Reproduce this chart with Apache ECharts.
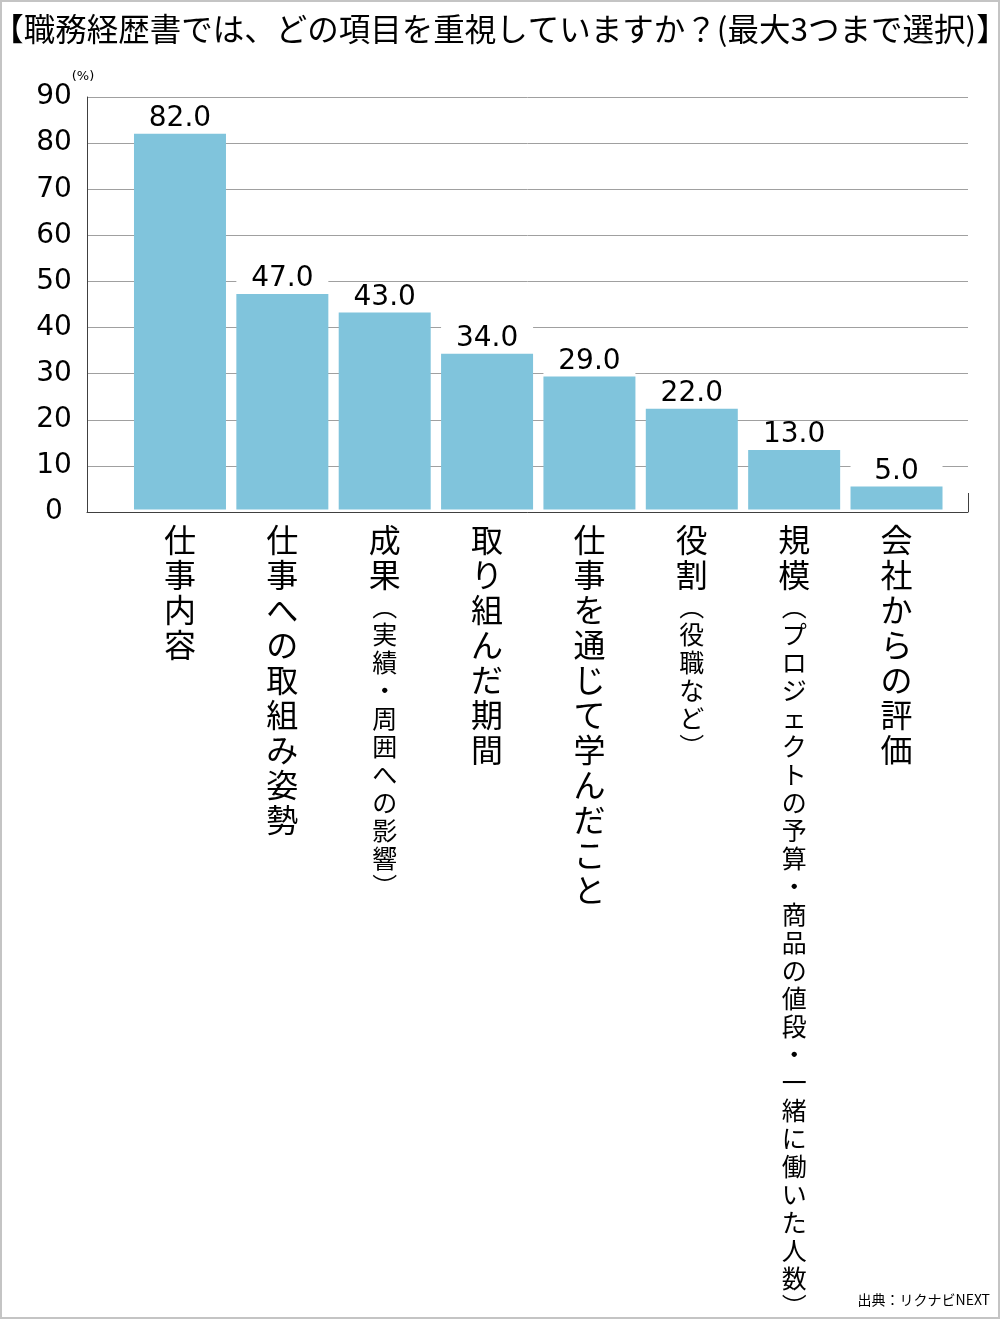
<!DOCTYPE html>
<html>
<head>
<meta charset="utf-8">
<script src="https://cdn.jsdelivr.net/npm/echarts@6/dist/echarts.min.js"></script>
<style>
html,body{margin:0;padding:0;background:#fff;}
#chart{width:1000px;height:1319px;}
</style>
</head>
<body>
<div id="chart"></div>
<script>
const titleText = '【職務経歴書では、どの項目を重視していますか？(最大3つまで選択)】';
const sourceText = '出典：リクナビNEXT';
const unitText = '(%)';
const categories = [
  '仕事内容',
  '仕事への取組み姿勢',
  '成果（実績・周囲への影響）',
  '取り組んだ期間',
  '仕事を通じて学んだこと',
  '役割（役職など）',
  '規模（プロジェクトの予算・商品の値段・一緒に働いた人数）',
  '会社からの評価'
];
const values = [82.0, 47.0, 43.0, 34.0, 29.0, 22.0, 13.0, 5.0];
const yMin = 0, yMax = 90, yStep = 10;

const JP = '"Noto Sans CJK JP", "Noto Sans", sans-serif';
const NUM = '"DejaVu Sans", Verdana, sans-serif';

function verticalLabel(text) {
  const idx = text.indexOf('（');
  const main = idx >= 0 ? text.slice(0, idx) : text;
  const sub = idx >= 0 ? text.slice(idx) : '';
  const lines = [];
  for (const ch of main) lines.push('{m|' + ch + '}');
  for (const ch of sub) {
    let c = ch;
    if (c === '（') c = '\uFE35';
    if (c === '）') c = '\uFE36';
    lines.push('{s|' + c + '}');
  }
  return lines.join('\n');
}

const chart = echarts.init(document.getElementById('chart'), null, {renderer: 'canvas'});
chart.setOption({
  animation: false,
  backgroundColor: '#fff',
  title: [
    {
      text: titleText,
      left: 'center',
      top: 8,
      textStyle: {fontFamily: JP, fontSize: 31.5, fontWeight: 'normal', color: '#000'}
    },
    {
      text: sourceText,
      right: 5,
      bottom: 7,
      textStyle: {fontFamily: JP, fontSize: 14, fontWeight: 'normal', color: '#000'}
    }
  ],
  graphic: [
    {
      type: 'rect',
      silent: true,
      z: 100,
      shape: {x: 1, y: 1, width: 998, height: 1317},
      style: {fill: 'none', stroke: '#c4c4c4', lineWidth: 2}
    }
  ],
  grid: [
    {left: 87, right: 32, top: 97, bottom: 807},
    {left: 128.8, right: 52.3, top: 97, bottom: 807}
  ],
  xAxis: [
    {
      gridIndex: 0,
      type: 'category',
      data: [''],
      boundaryGap: true,
      axisLine: {show: true, lineStyle: {color: '#404040', width: 1}},
      axisTick: {show: true, inside: true, length: 19, lineStyle: {color: '#404040'}},
      axisLabel: {show: false},
      splitLine: {show: false}
    },
    {
      gridIndex: 1,
      type: 'category',
      data: categories,
      axisLine: {show: false},
      axisTick: {show: false},
      splitLine: {show: false},
      axisLabel: {
        interval: 0,
        margin: 13,
        color: '#000',
        verticalAlign: 'top',
        formatter: verticalLabel,
        rich: {
          m: {fontFamily: JP, fontSize: 32, lineHeight: 35, color: '#000', align: 'center'},
          s: {fontFamily: JP, fontSize: 25, lineHeight: 28, color: '#000', align: 'center'}
        }
      }
    }
  ],
  yAxis: [
    {
      gridIndex: 0,
      type: 'value',
      min: yMin,
      max: yMax,
      interval: yStep,
      name: unitText,
      nameLocation: 'end',
      nameGap: 11,
      nameTextStyle: {fontFamily: NUM, fontSize: 13, color: '#000', align: 'center', padding: [0, 8, 0, 0]},
      axisLine: {show: true, lineStyle: {color: '#404040', width: 1}},
      axisTick: {show: false},
      axisLabel: {fontFamily: NUM, fontSize: 28, color: '#000', align: 'center', margin: 33},
      splitLine: {show: true, lineStyle: {color: '#a0a0a0', width: 1}}
    },
    {
      gridIndex: 1,
      type: 'value',
      min: yMin,
      max: yMax,
      interval: yStep,
      show: false,
      splitLine: {show: false}
    }
  ],
  series: [
    {
      type: 'bar',
      xAxisIndex: 1,
      yAxisIndex: 1,
      data: values,
      barWidth: 92,
      itemStyle: {color: '#80c4dc'},
      label: {
        show: true,
        position: 'top',
        distance: 1,
        formatter: (p) => p.value.toFixed(1),
        fontFamily: NUM,
        fontSize: 28,
        lineHeight: 28,
        color: '#000',
        backgroundColor: '#fff',
        width: 92,
        align: 'center',
        padding: [0, 0, 0, 0]
      }
    }
  ]
});
</script>
</body>
</html>
